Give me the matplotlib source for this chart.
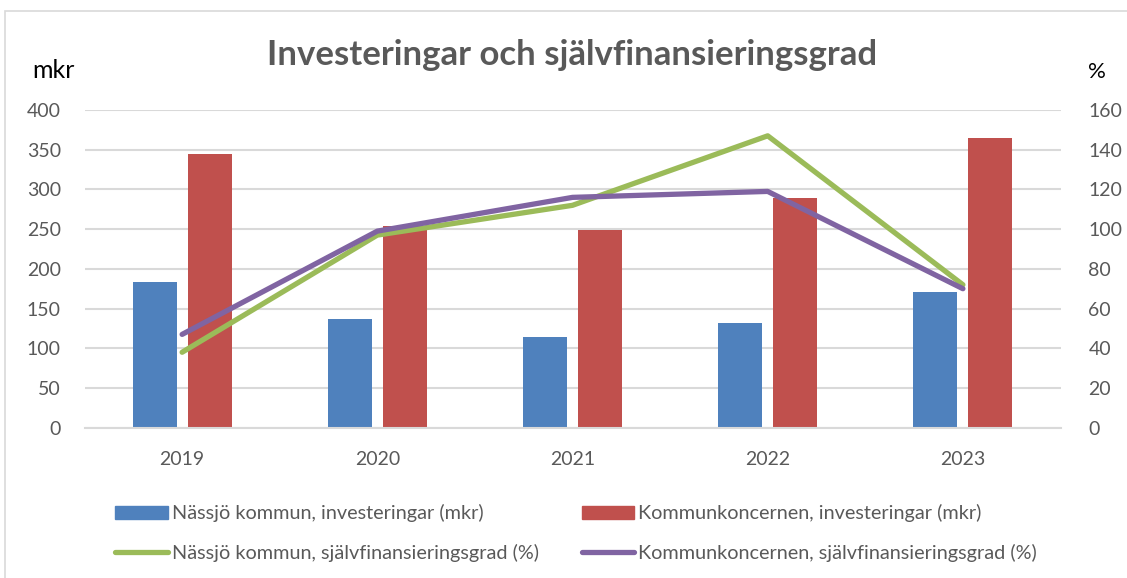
import numpy as np
import matplotlib.pyplot as plt
from matplotlib.patches import Rectangle
from matplotlib.lines import Line2D

plt.rcParams['font.family'] = ['Lato', 'DejaVu Sans']

years = ['2019', '2020', '2021', '2022', '2023']
kommun_inv = [183, 137, 114, 132, 171]       # mkr
koncern_inv = [344, 254, 249, 289, 365]      # mkr
kommun_sjf = [38, 97, 112, 147, 72]          # %
koncern_sjf = [47, 99, 116, 119, 70]         # %

c_blue = '#4F81BD'
c_red = '#C0504D'
c_green = '#9BBB59'
c_purple = '#8064A2'
grey = '#595959'

fig = plt.figure(figsize=(11.27, 5.78), dpi=100)
ax = fig.add_axes([0.075, 0.26, 0.866, 0.5497])
ax2 = ax.twinx()

x = np.arange(len(years))
w = 0.226
ax.bar(x - 0.141, kommun_inv, w, color=c_blue, zorder=2)
ax.bar(x + 0.141, koncern_inv, w, color=c_red, zorder=2)

ax2.plot(x, kommun_sjf, color=c_green, lw=3.8, solid_capstyle='round', zorder=3)
ax2.plot(x, koncern_sjf, color=c_purple, lw=3.8, solid_capstyle='round', zorder=3)

ax.set_xlim(-0.5, 4.5)
ax.set_ylim(0, 400)
ax2.set_ylim(0, 160)
ax.set_yticks(range(0, 401, 50))
ax2.set_yticks(range(0, 161, 20))
ax.set_xticks(x)
ax.set_xticklabels(years)

ax.grid(axis='y', color='#D9D9D9', lw=1.5, zorder=0)
ax.set_axisbelow(True)
for a in (ax, ax2):
    for s in a.spines.values():
        s.set_visible(False)
    a.tick_params(length=0, labelsize=14, colors=grey)
ax.spines['bottom'].set_visible(True)
ax.spines['bottom'].set_color('#D9D9D9')
ax.spines['bottom'].set_linewidth(1.5)
ax.tick_params(axis='y', pad=17)
ax2.tick_params(axis='y', pad=20)
ax.tick_params(axis='x', pad=17)

fig.text(0.508, 0.905, 'Investeringar och självfinansieringsgrad', ha='center', va='center',
         fontsize=25, fontweight='bold', color=grey)
fig.text(0.029, 0.878, 'mkr', ha='left', va='center', fontsize=18, color='black')
fig.text(0.965, 0.875, '%', ha='left', va='center', fontsize=16, color='black')

# chart border
fig.patches.append(Rectangle((0.004, -0.01), 1.2, 0.991, transform=fig.transFigure,
                             fill=False, edgecolor='#D9D9D9', lw=1.2))

# legend, placed entry by entry like the original
entries = [(Rectangle((0, 0), 1, 1, color=c_blue), 'Nässjö kommun, investeringar (mkr)', 0.102, 0.112),
           (Rectangle((0, 0), 1, 1, color=c_red), 'Kommunkoncernen, investeringar (mkr)', 0.516, 0.112),
           (Line2D([], [], color=c_green, lw=3.8, solid_capstyle='round'),
            'Nässjö kommun, självfinansieringsgrad (%)', 0.102, 0.044),
           (Line2D([], [], color=c_purple, lw=3.8, solid_capstyle='round'),
            'Kommunkoncernen, självfinansieringsgrad (%)', 0.516, 0.044)]
for h, lab, lx, ly in entries:
    leg = fig.legend([h], [lab], loc='center left', bbox_to_anchor=(lx, ly), frameon=False,
                     fontsize=14.3, labelcolor=grey, handlelength=2.65, handleheight=0.62,
                     handletextpad=0.2, borderpad=0, borderaxespad=0)

fig.savefig('out.png', dpi=100)
